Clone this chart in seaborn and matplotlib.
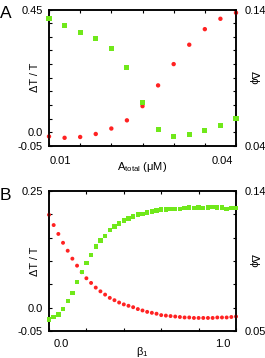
import matplotlib
matplotlib.use("Agg")
import matplotlib.pyplot as plt
import matplotlib.transforms as mtransforms
from matplotlib.ticker import FixedLocator, FixedFormatter
import seaborn as sns

sns.set_theme(style="white")
plt.rcParams['font.family'] = ['Liberation Sans', 'DejaVu Sans']
plt.rcParams['mathtext.fontset'] = 'custom'
plt.rcParams['mathtext.rm'] = 'Liberation Sans'
plt.rcParams['mathtext.it'] = 'Liberation Sans:italic'

# ---------------- data ----------------
# Panel A
a_total = [0.0100, 0.0125, 0.0150, 0.0175, 0.0200, 0.0225, 0.0250,
           0.0275, 0.0300, 0.0325, 0.0350, 0.0375, 0.0400]
a_dTT = [-0.015, -0.020, -0.017, -0.006, 0.014, 0.044, 0.096,
         0.172, 0.250, 0.321, 0.378, 0.416, 0.438]
a_dphi = [0.1335, 0.1280, 0.1233, 0.1185, 0.1115, 0.0973, 0.0720,
          0.0518, 0.0468, 0.0487, 0.0516, 0.0549, 0.0600]

# Panel B
beta1 = [0.000, 0.025, 0.050, 0.075, 0.100, 0.125, 0.150, 0.175, 0.200, 0.225,
         0.250, 0.275, 0.300, 0.325, 0.350, 0.375, 0.400, 0.425, 0.450, 0.475,
         0.500, 0.525, 0.550, 0.575, 0.600, 0.625, 0.650, 0.675, 0.700, 0.725,
         0.750, 0.775, 0.800, 0.825, 0.850, 0.875, 0.900, 0.925, 0.950, 0.975,
         1.000]
b_dTT = [0.199, 0.177, 0.158, 0.139, 0.122, 0.105, 0.090, 0.076, 0.063, 0.053,
         0.043, 0.035, 0.028, 0.021, 0.016, 0.011, 0.007, 0.004, 0.001, -0.003,
         -0.006, -0.009, -0.011, -0.013, -0.016, -0.017, -0.018, -0.019, -0.020, -0.021,
         -0.021, -0.022, -0.022, -0.022, -0.022, -0.022, -0.021, -0.021, -0.021, -0.020,
         -0.019]
b_dphi = [0.0575, 0.0590, 0.0607, 0.0643, 0.0692, 0.0746, 0.0814, 0.0880, 0.0936, 0.0989,
          0.1043, 0.1081, 0.1111, 0.1150, 0.1171, 0.1192, 0.1210, 0.1224, 0.1235, 0.1248,
          0.1252, 0.1263, 0.1267, 0.1274, 0.1280, 0.1282, 0.1286, 0.1286, 0.1286, 0.1289,
          0.1295, 0.1289, 0.1295, 0.1291, 0.1293, 0.1297, 0.1295, 0.1293, 0.1286, 0.1289,
          0.1291]

# ticks / labels
a_xticks = [0.010, 0.015, 0.020, 0.025, 0.030, 0.035, 0.040]
a_xlabels = ["0.01", "", "", "", "", "", "0.04"]
a_lticks = [-0.05, 0.0, 0.05, 0.10, 0.15, 0.20, 0.25, 0.30, 0.35, 0.40, 0.45]
a_llabels = ["-0.05", "0.0", "", "", "", "", "", "", "", "", "0.45"]
a_rticks = [0.04, 0.05, 0.06, 0.07, 0.08, 0.09, 0.10, 0.11, 0.12, 0.13, 0.14]
a_rlabels = ["0.04", "", "", "", "", "", "", "", "", "", "0.14"]

b_xticks = [0.0, 0.2, 0.4, 0.6, 0.8, 1.0]
b_xlabels = ["0.0", "", "", "", "", "1.0"]
b_lticks = [-0.05, 0.0, 0.05, 0.10, 0.15, 0.20, 0.25]
b_llabels = ["-0.05", "0.0", "", "", "", "", "0.25"]
b_rticks = [0.05, 0.065, 0.08, 0.095, 0.11, 0.125, 0.14]
b_rlabels = ["0.05", "", "", "", "", "", "0.14"]

RED = '#ff2222'
GREEN = '#70e81a'

W, H = 265, 358
fig = plt.figure(figsize=(W / 100, H / 100), dpi=100)


def make_panel(rect, x, y1, y2, xt, xl, lt, ll, rt, rl, xlim, ylim1, ylim2,
               xlabel, xpad, s_red, s_green, xshift):
    ax = fig.add_axes(rect)
    ax2 = ax.twinx()
    sns.scatterplot(x=x, y=y1, ax=ax, color=RED, marker='o', s=s_red,
                    edgecolor='none', linewidth=0, clip_on=False, zorder=3)
    sns.scatterplot(x=x, y=y2, ax=ax2, color=GREEN, marker='s', s=s_green,
                    edgecolor='none', linewidth=0, clip_on=False, zorder=3)
    ax.set_xlim(*xlim)
    ax.set_ylim(*ylim1)
    ax2.set_ylim(*ylim2)
    ax.xaxis.set_major_locator(FixedLocator(xt))
    ax.xaxis.set_major_formatter(FixedFormatter(xl))
    ax.yaxis.set_major_locator(FixedLocator(lt))
    ax.yaxis.set_major_formatter(FixedFormatter(ll))
    ax2.yaxis.set_major_locator(FixedLocator(rt))
    ax2.yaxis.set_major_formatter(FixedFormatter(rl))
    for a in (ax, ax2):
        a.grid(False)
        for sp in a.spines.values():
            sp.set_color('black')
            sp.set_linewidth(1.1)
    ax.tick_params(axis='x', direction='in', top=True, bottom=True, length=2.5,
                   width=0.8, color='black', labelsize=8, pad=xpad, labelcolor='black')
    ax.tick_params(axis='y', direction='in', left=True, right=False, length=2.5,
                   width=0.8, color='black', labelsize=8, pad=4.3, labelcolor='black')
    ax2.tick_params(axis='y', direction='in', right=True, left=False, length=2.5,
                    width=0.8, color='black', labelsize=8, pad=6.5, labelcolor='black')
    ax.set_ylabel("ΔT / T", fontsize=7.8, color='black')
    ax.yaxis.set_label_coords(-0.05, 0.5)
    ax2.set_ylabel("Δϕ", fontsize=8, color='black', rotation=270, va='bottom')
    ax2.yaxis.set_label_coords(1.07, 0.5)
    ax.set_xlabel(xlabel, fontsize=8, color='black')
    ax.xaxis.set_label_coords(0.5, -0.10)
    labels = ax.get_xticklabels()
    labels[0].set_ha('left')
    labels[-1].set_ha('right')
    labels[0].set_transform(labels[0].get_transform() +
                            mtransforms.ScaledTranslation(xshift[0] / 100, 0, fig.dpi_scale_trans))
    labels[-1].set_transform(labels[-1].get_transform() +
                             mtransforms.ScaledTranslation(xshift[1] / 100, 0, fig.dpi_scale_trans))
    return ax, ax2


left = 49 / W
width = 187 / W
make_panel([left, 1 - 146 / H, width, 136.5 / H], a_total, a_dTT, a_dphi,
           a_xticks, a_xlabels, a_lticks, a_llabels, a_rticks, a_rlabels,
           (0.01, 0.04), (-0.05, 0.45), (0.04, 0.14),
           r"A$_{\rm total}$ (μM)", 7.0, 10, 13, (1, -3))
make_panel([left, 1 - 331 / H, width, 140 / H], beta1, b_dTT, b_dphi,
           b_xticks, b_xlabels, b_lticks, b_llabels, b_rticks, b_rlabels,
           (0.0, 1.0), (-0.05, 0.25), (0.05, 0.14),
           r"β$_{1}$", 5.8, 8, 10, (5, -6))

fig.text(0.0, 1 - 18 / H, "A", fontsize=12.5, color='black', ha='left', va='baseline')
fig.text(0.0, 1 - 200 / H, "B", fontsize=12.5, color='black', ha='left', va='baseline')

fig.savefig("out.png", dpi=100)
